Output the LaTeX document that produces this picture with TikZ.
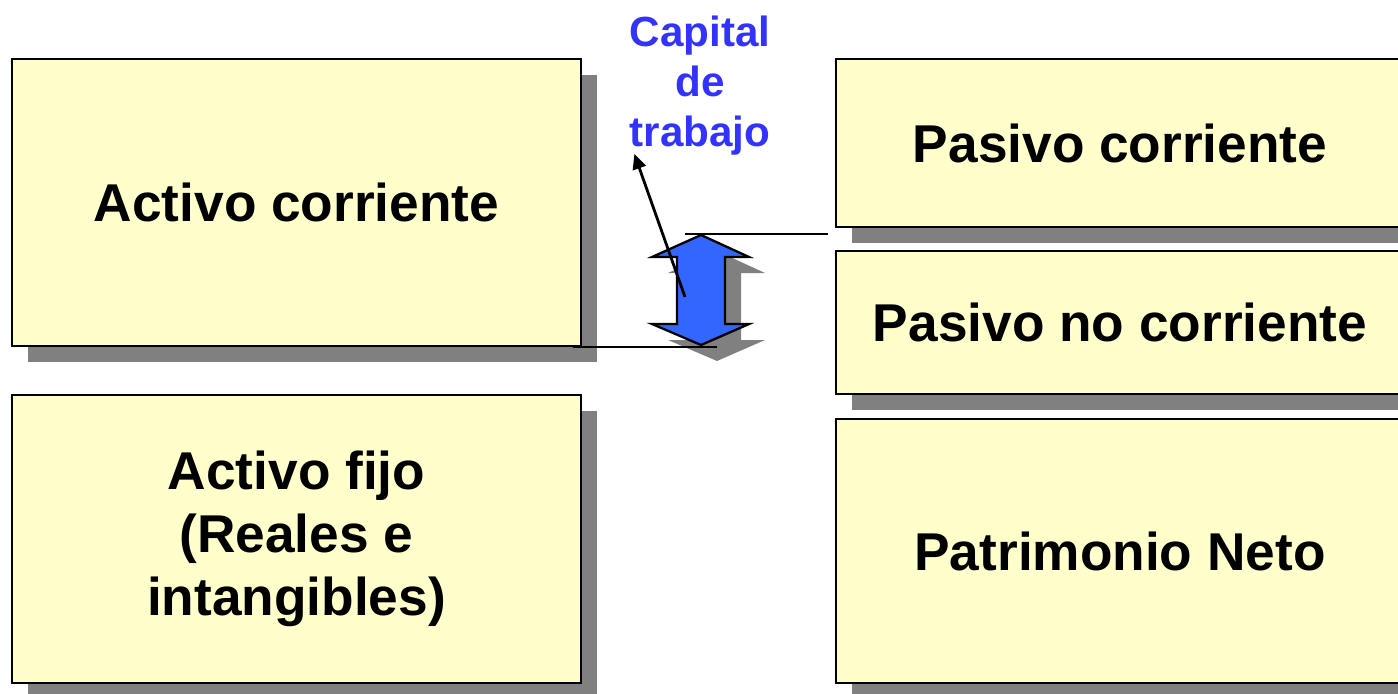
\documentclass[tikz,border=0pt]{standalone}
\usepackage{fontspec}
\setmainfont{Liberation Sans}
\usepackage{tikz}
\usetikzlibrary{shadows, arrows.meta, positioning}
\definecolor{boxfill}{RGB}{255,255,204}
\definecolor{boxshadow}{RGB}{128,128,128}
\definecolor{ctblue}{RGB}{51,102,255}
\definecolor{cttext}{RGB}{51,51,255}

\begin{document}
\begin{tikzpicture}[x=0.02cm, y=-0.02cm,
    sombra/.style={drop shadow={shadow xshift=0.32cm, shadow yshift=-0.32cm,
        fill=boxshadow, opacity=1}},
    cuenta/.style={draw=black, line width=1.3pt, fill=boxfill, sombra,
      minimum width=11.38cm, minimum height=#1, inner sep=0pt, align=center,
      font=\fontsize{30.3}{35.9}\selectfont\bfseries},
    cuenta/.default=5cm,
    raya/.style={line width=1.6pt}
  ]
  \useasboundingbox (0,0) rectangle (1398,693);
  \clip (0,0) rectangle (1398,693);

  % activo
  \node [cuenta=5.74cm] at (296.5, 202.5) (ac) {Activo corriente};
  \node [cuenta=5.76cm] at (296.5, 539) (af) {Activo fijo\\(Reales e\\intangibles)};
  % pasivo
  \node [cuenta=3.36cm, minimum width=11.36cm] at (1120, 143) (pc) {Pasivo corriente};
  \node [cuenta=2.86cm, minimum width=11.36cm] at (1120, 322.5) (pnc) {Pasivo no corriente};
  \node [cuenta=5.28cm, minimum width=11.36cm] at (1120, 551) (pn) {Patrimonio Neto};

  % capital de trabajo
  \draw [fill=ctblue, line width=1.3pt, sombra]
    (701,235) -- (749,257) -- (725,257) -- (725,324) -- (749,324) -- (701,345)
    -- (652,324) -- (677,324) -- (677,257) -- (652,257) -- cycle;
  \coordinate (sup1) at (685,234);
  \coordinate (sup2) at (828,234);
  \coordinate (inf1) at (573,347);
  \coordinate (inf2) at (717,347);
  \draw [raya] (sup1) -- (sup2);
  \draw [raya] (inf1) -- (inf2);

  \node [align=center, text=cttext, inner sep=0pt,
    font=\fontsize{24}{28.45}\selectfont\bfseries] at (700, 86) (capital) {Capital\\de\\trabajo};
  \coordinate (cola) at (685,297);
  \draw [raya, -{Triangle[length=0.3cm, width=0.27cm]}]
    (cola) -- ([xshift=0.1cm, yshift=0.04cm]capital.south west);
\end{tikzpicture}
\end{document}
